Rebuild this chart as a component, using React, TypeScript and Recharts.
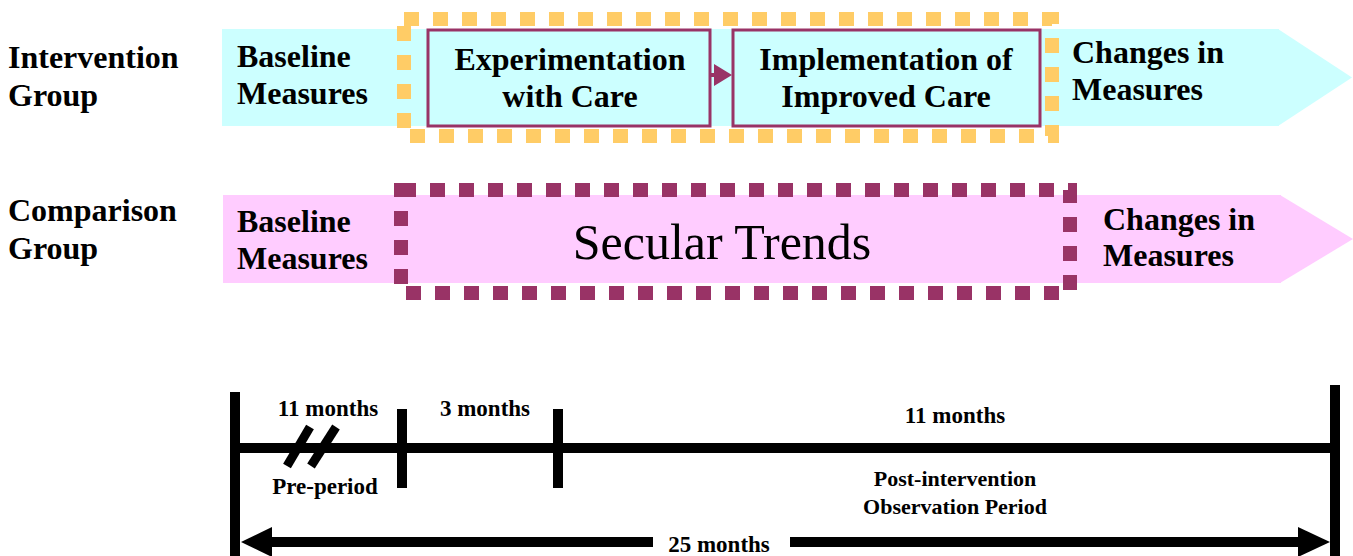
import React from "react"
import { ComposedChart, XAxis, YAxis, ReferenceArea, ReferenceLine, Scatter } from "recharts"

// texts of the study design diagram
const rowLabels = [["Intervention", "Group"], ["Comparison", "Group"]]
const baselineLabel = ["Baseline", "Measures"]
const outcomeLabel = ["Changes in", "Measures"]
const interventionSteps = [["Experimentation", "with Care"], ["Implementation of", "Improved Care"]]
const comparisonLabel = "Secular Trends"
const periodMonths = ["11 months", "3 months", "11 months"]
const periodNotes = [["Pre-period"], [], ["Post-intervention", "Observation Period"]]
const totalLabel = "25 months"

// timeline boundaries (start, end of pre-period, end of intervention, end)
const timelineStops = [235, 402, 558, 1335]

const W = 1353
const H = 556
const SERIF = '"Liberation Serif", "Times New Roman", serif'
const CYAN = "#ccffff"
const PINK = "#ffccff"
const PLUM = "#993366"
const GOLD = "#ffcc66"

const rows = [
  { x1: 222, bodyEnd: 1278, tipEnd: 1352, y1: 29, y2: 126, fill: CYAN },
  { x1: 223, bodyEnd: 1280, tipEnd: 1353, y1: 195, y2: 283, fill: PINK },
]

const stepBoxes = [
  { x1: 428, x2: 710 },
  { x1: 733, x2: 1040 },
]

type TextItem = {
  x: number
  y: number
  lines: string[]
  size: number
  weight: string
  anchor: string
  lh: number
}

const textItems: TextItem[] = [
  { x: 8, y: 68, lines: rowLabels[0], size: 32, weight: "bold", anchor: "start", lh: 38 },
  { x: 8, y: 221, lines: rowLabels[1], size: 32, weight: "bold", anchor: "start", lh: 38 },
  { x: 237, y: 67, lines: baselineLabel, size: 32, weight: "bold", anchor: "start", lh: 37 },
  { x: 237, y: 232, lines: baselineLabel, size: 32, weight: "bold", anchor: "start", lh: 37 },
  { x: 1072, y: 63, lines: outcomeLabel, size: 32, weight: "bold", anchor: "start", lh: 37 },
  { x: 1103, y: 230, lines: outcomeLabel, size: 32, weight: "bold", anchor: "start", lh: 36 },
  { x: 570, y: 70, lines: interventionSteps[0], size: 32, weight: "bold", anchor: "middle", lh: 37 },
  { x: 886, y: 70, lines: interventionSteps[1], size: 32, weight: "bold", anchor: "middle", lh: 37 },
  { x: 722, y: 259, lines: [comparisonLabel], size: 50, weight: "normal", anchor: "middle", lh: 0 },
  { x: 328, y: 416, lines: [periodMonths[0]], size: 23, weight: "bold", anchor: "middle", lh: 0 },
  { x: 485, y: 416, lines: [periodMonths[1]], size: 23, weight: "bold", anchor: "middle", lh: 0 },
  { x: 955, y: 423, lines: [periodMonths[2]], size: 23, weight: "bold", anchor: "middle", lh: 0 },
  { x: 325, y: 494, lines: periodNotes[0], size: 23, weight: "bold", anchor: "middle", lh: 0 },
  { x: 955, y: 486, lines: periodNotes[2], size: 22, weight: "bold", anchor: "middle", lh: 28 },
  { x: 719, y: 552, lines: [totalLabel], size: 23, weight: "bold", anchor: "middle", lh: 0 },
]

const TextMark = (p: any) => {
  const d: TextItem = p.payload
  return (
    <text x={p.cx} y={p.cy} textAnchor={d.anchor} fontFamily={SERIF} fontSize={d.size} fontWeight={d.weight} fill="#000">
      {d.lines.map((l, i) => (
        <tspan key={i} x={p.cx} dy={i === 0 ? 0 : d.lh}>
          {l}
        </tspan>
      ))}
    </text>
  )
}

const rectShape = (fill: string, stroke = "none", strokeWidth = 0, dash?: string) => (p: any) => (
  <rect x={p.x} y={p.y} width={p.width} height={p.height} fill={fill} stroke={stroke} strokeWidth={strokeWidth} strokeDasharray={dash} />
)

const headShape = (fill: string, dir: "left" | "right") => (p: any) => {
  const { x, y, width, height } = p
  const pts =
    dir === "right"
      ? [[x, y], [x + width, y + height / 2], [x, y + height]]
      : [[x + width, y], [x, y + height / 2], [x + width, y + height]]
  return <polygon points={pts.map((q) => q.join(",")).join(" ")} fill={fill} />
}

const seg = (x1: number, y1: number, x2: number, y2: number, w = 10, color = "#000") => (
  <ReferenceLine
    segment={[{ x: x1, y: y1 }, { x: x2, y: y2 }]}
    stroke={color}
    strokeWidth={w}
    ifOverflow="visible"
  />
)

export default function App() {
  const [t0, t1, t2, t3] = timelineStops
  return (
    <div style={{ position: "absolute", left: 0, top: 0, width: W, height: H, background: "#fff" }}>
      <ComposedChart width={W} height={H} margin={{ top: 0, right: 0, bottom: 0, left: 0 }}>
        <XAxis type="number" dataKey="x" domain={[0, W]} allowDataOverflow hide />
        <YAxis type="number" dataKey="y" domain={[0, H]} allowDataOverflow reversed hide />

        {/* group arrows */}
        {rows.map((r, i) => (
          <ReferenceArea key={`b${i}`} x1={r.x1} x2={r.bodyEnd + 1} y1={r.y1} y2={r.y2} ifOverflow="visible" shape={rectShape(r.fill)} />
        ))}
        {rows.map((r, i) => (
          <ReferenceArea key={`t${i}`} x1={r.bodyEnd} x2={r.tipEnd} y1={r.y1} y2={r.y2} ifOverflow="visible" shape={headShape(r.fill, "right")} />
        ))}

        {/* intervention period (dashed gold) and secular trend period (dashed plum) */}
        <ReferenceArea x1={404} x2={1052} y1={19} y2={136} ifOverflow="visible" shape={rectShape("none", GOLD, 14, "15 14")} />
        <ReferenceArea x1={401} x2={1070} y1={190} y2={293} ifOverflow="visible" shape={rectShape("none", PLUM, 14, "15 14")} />

        {/* intervention steps */}
        {stepBoxes.map((b, i) => (
          <ReferenceArea key={`s${i}`} x1={b.x1} x2={b.x2} y1={30} y2={126} ifOverflow="visible" shape={rectShape(CYAN, PLUM, 3)} />
        ))}
        {seg(stepBoxes[0].x2 + 1, 75, stepBoxes[1].x1 - 14, 75, 4, PLUM)}
        <ReferenceArea x1={714} x2={stepBoxes[1].x1 - 1} y1={64} y2={86} ifOverflow="visible" shape={headShape(PLUM, "right")} />

        {/* timeline */}
        {seg(t0, 392, t0, H)}
        {seg(t3, 385, t3, H)}
        {seg(t0, 448, t3, 448)}
        {seg(t1, 409, t1, 488)}
        {seg(t2, 409, t2, 488)}
        {seg(287, 466, 310, 427, 9)}
        {seg(311, 466, 336, 427, 9)}

        {/* 25 months span arrow */}
        {seg(270, 542, 653, 542)}
        {seg(790, 542, 1300, 542)}
        <ReferenceArea x1={t0 + 6} x2={272} y1={527} y2={557} ifOverflow="visible" shape={headShape("#000", "left")} />
        <ReferenceArea x1={1298} x2={t3 - 5} y1={527} y2={557} ifOverflow="visible" shape={headShape("#000", "right")} />

        <Scatter data={textItems} dataKey="y" shape={TextMark} isAnimationActive={false} />
      </ComposedChart>
    </div>
  )
}
